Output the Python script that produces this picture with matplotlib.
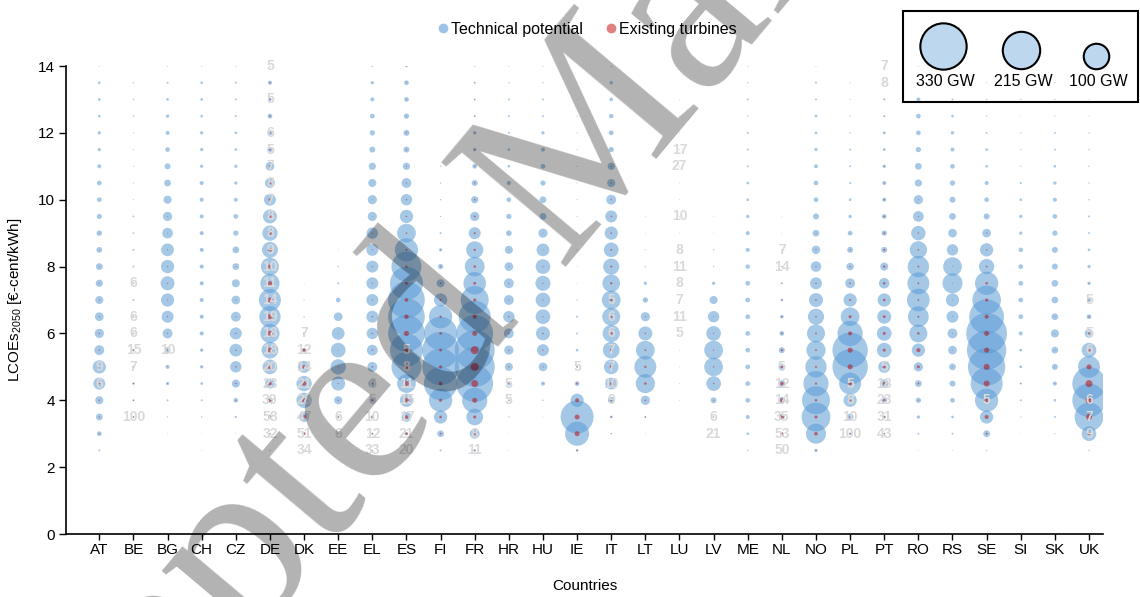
import numpy as np
import matplotlib
matplotlib.use('Agg')
import matplotlib.pyplot as plt
from matplotlib.lines import Line2D
from matplotlib.patches import Rectangle
from matplotlib.font_manager import FontProperties

plt.rcParams['font.family'] = ['Liberation Sans', 'DejaVu Sans']

# Countries on the x axis, LCOE bins (euro-cent/kWh) on the y axis
countries = ['AT', 'BE', 'BG', 'CH', 'CZ', 'DE', 'DK', 'EE', 'EL', 'ES',
             'FI', 'FR', 'HR', 'HU', 'IE', 'IT', 'LT', 'LU', 'LV', 'ME',
             'NL', 'NO', 'PL', 'PT', 'RO', 'RS', 'SE', 'SI', 'SK', 'UK']
levels = [2.5, 3.0, 3.5, 4.0, 4.5, 5.0, 5.5, 6.0, 6.5, 7.0, 7.5, 8.0,
          8.5, 9.0, 9.5, 10.0, 10.5, 11.0, 11.5, 12.0, 12.5, 13.0, 13.5, 14.0]

# Technical potential per bin [GW], bins 2.5 -> 14
pot_AT = [0.6, 3.4, 7, 10, 22, 27, 15, 13, 11.6, 10, 8, 7, 5, 4.5, 4, 3.4, 3.4, 2.5, 1.7, 1.7, 1.1, 1.1, 1.1, 0.3]
pot_BE = [0, 0, 0.5, 0.6, 1, 0.8, 1, 0.6, 0.6, 0.6, 0.5, 0.6, 0.6, 0.5, 0.5, 0.2, 0.2, 0.2, 0.2, 0.2, 0.3, 0.3, 0.3, 0.1]
pot_BG = [0, 0.1, 0.3, 0.6, 1.7, 2.5, 5, 15, 22, 27, 30, 27, 25, 17.5, 13, 10, 7, 5.5, 3.4, 2.5, 1.7, 1.1, 0.6, 0.3]
pot_CH = [0.1, 0.1, 0.3, 0.6, 1.1, 1.7, 1.7, 2.5, 2.5, 2.5, 2.5, 2.5, 2.5, 2.5, 2.5, 2.5, 2.5, 1.7, 1.7, 1.7, 1.1, 1.1, 1.1, 0.3]
pot_CZ = [0, 0.1, 0.6, 3.4, 10, 20, 25, 22, 15, 11.6, 10, 7, 7, 4.3, 3.4, 2.5, 1.7, 1.7, 1.1, 1.1, 0.6, 0.6, 0.6, 0.3]
pot_DE = [0.1, 0.5, 2, 5, 15, 33, 43, 57, 70, 74, 57, 50, 39, 36, 30, 22, 15, 11.6, 4.3, 4.3, 3.4, 1.7, 2.5, 0.3]
pot_DK = [0.2, 1, 15, 36, 36, 22, 3, 0.5, 0.3, 0.2, 0.1, 0, 0, 0, 0, 0, 0, 0, 0, 0, 0, 0, 0, 0]
pot_EE = [0, 0.3, 1, 10, 30, 36, 33, 25, 11.6, 3.4, 0.6, 0.3, 0.1, 0, 0, 0, 0, 0, 0, 0, 0, 0, 0, 0]
pot_EL = [0.3, 0.8, 2, 5, 10, 15, 18, 20, 22, 22, 22, 22, 22, 20, 13, 13, 10, 8, 5.5, 4.3, 3.4, 2.5, 1.7, 0.6]
pot_ES = [0.5, 1.7, 15, 27, 54, 138, 167, 207, 207, 207, 167, 138, 83, 54, 27, 20, 15, 8, 5.5, 5.5, 4.3, 3.4, 3.4, 1.1]
pot_FI = [0.6, 7, 27, 83, 171, 207, 207, 171, 83, 27, 10, 4.3, 1.7, 0.6, 0.3, 0.3, 0.3, 0.3, 0, 0, 0, 0, 0, 0]
pot_FR = [1.1, 15, 43, 98, 207, 246, 246, 207, 157, 120, 78, 60, 45, 22, 13, 8, 5.5, 3.4, 1.7, 1.7, 0.6, 0.6, 0.6, 0.3]
pot_HR = [0.1, 0.1, 0.3, 0.6, 2.5, 10, 13, 15, 20, 15, 15, 11.6, 10, 5, 4.3, 3.4, 2.5, 1.1, 1.1, 0.6, 0.6, 0.6, 0.3, 0.3]
pot_HU = [0, 0, 0.1, 0.3, 2.5, 11.6, 22, 30, 33, 33, 35, 33, 25, 13, 7, 7, 4.3, 3.4, 2.5, 1.7, 0.6, 0.6, 0.3, 0.3]
pot_IE = [1.1, 89, 167, 27, 3.4, 0.6, 1.1, 0.6, 0.6, 0.3, 0.1, 0.1, 0.2, 0.2, 0.2, 0.2, 0.2, 0.2, 0.2, 0.2, 0.2, 0.1, 0.1, 0.1]
pot_IT = [0, 0.3, 1.1, 7, 22, 33, 43, 46, 50, 54, 48, 40, 33, 27, 22, 15, 10, 8, 4.3, 3.4, 3, 2, 1.7, 0.6]
pot_LT = [0, 0.1, 0.6, 13, 57, 74, 54, 30, 13, 4.3, 1.7, 0.3, 0.2, 0.1, 0.1, 0, 0, 0, 0, 0, 0, 0, 0, 0]
pot_LU = [0, 0, 0, 0.1, 0.1, 0.1, 0.1, 0.1, 0.1, 0.1, 0.1, 0.1, 0.1, 0.1, 0.1, 0.1, 0.1, 0.1, 0.1, 0.1, 0.1, 0.1, 0, 0]
pot_LV = [0, 0.1, 0.3, 5.5, 33, 54, 54, 33, 20, 10, 1.7, 0.3, 0.3, 0.1, 0.1, 0, 0, 0, 0, 0, 0, 0, 0, 0]
pot_ME = [0.3, 1.1, 2.5, 3.4, 3.4, 3.4, 3.4, 3.4, 3.4, 3.4, 3.4, 3, 2.5, 2.5, 1.7, 1.1, 1.1, 0.6, 0.6, 0.6, 0.3, 0.6, 0.3, 0.3]
pot_NL = [0.1, 1.1, 5.5, 7, 7, 7, 5.5, 3.4, 2, 1.1, 0.6, 0.3, 0.2, 0.1, 0.1, 0, 0, 0, 0, 0, 0, 0, 0, 0]
pot_NO = [1.7, 62, 127, 120, 98, 70, 57, 50, 40, 30, 22, 17, 11, 7, 5.5, 3.4, 3.4, 2.5, 1.7, 1.1, 1.1, 0.6, 0.6, 0.3]
pot_PL = [0, 1.1, 7, 27, 74, 192, 192, 98, 54, 27, 15, 8.5, 5.5, 3.4, 1.7, 1.1, 0.6, 0.6, 0.6, 0.3, 0.3, 0.15, 0.15, 0.15]
pot_PT = [0, 0.6, 1.7, 5.5, 11.6, 22, 33, 33, 30, 27, 17, 10, 5.5, 4.3, 3.4, 2.5, 2.5, 1.7, 1.1, 1.1, 0.6, 0.6, 0.3, 0.3]
pot_RO = [0.1, 0.6, 1.7, 4.3, 7, 13, 27, 50, 66, 79, 74, 70, 46, 32, 17.5, 13, 8, 7, 4.3, 3.4, 3.4, 2.5, 0.6, 0.3]
pot_RS = [0.1, 0.6, 1.1, 3.4, 5.5, 7, 11.6, 15, 22, 27, 62, 54, 20, 11.6, 7, 5.5, 4.3, 3.4, 2.5, 1.7, 1.1, 0.6, 0.3, 0.15]
pot_SE = [0.3, 7, 27, 83, 157, 214, 238, 255, 185, 126, 83, 36, 27, 11.6, 5.5, 3.4, 2.5, 1.1, 1.1, 0.6, 0.3, 0.3, 0.15, 0.15]
pot_SI = [0, 0.07, 0.26, 0.6, 0.6, 1.1, 1.1, 2.5, 3.4, 3.4, 3.4, 3.4, 3, 1.7, 1.7, 1.1, 0.6, 0.26, 0.26, 0.26, 0.07, 0.26, 0.07, 0.07]
pot_SK = [0, 0.26, 0.6, 1.1, 2.5, 5.5, 7, 10, 7, 7, 7, 5.5, 5.5, 4.3, 3.4, 2.5, 1.7, 1.1, 0.6, 0.6, 0.26, 0.26, 0.26, 0.07]
pot_UK = [0.3, 33, 127, 171, 171, 74, 33, 11.6, 3.4, 2.5, 1.7, 1.7, 1.1, 0.6, 0.6, 0.3, 0.3, 0.3, 0.3, 0.3, 0.15, 0.15, 0.15, 0.15]

# Existing turbines per bin [GW], bins 2.5 -> 14
ex_AT = [0, 0.2, 0.3, 0.3, 0.3, 0.3, 0.3, 0.3, 0.2, 0.2, 0.2, 0.1, 0.1, 0.1, 0, 0, 0, 0, 0, 0, 0, 0, 0, 0]
ex_BE = [0, 0, 0.3, 0.2, 0.2, 0.3, 0.3, 0, 0, 0, 0, 0, 0, 0, 0, 0, 0, 0, 0, 0, 0, 0, 0, 0]
ex_BG = [0, 0, 0, 0, 0.1, 0.1, 0.2, 0.2, 0.2, 0.2, 0.2, 0.2, 0.2, 0.1, 0.1, 0, 0, 0, 0, 0, 0, 0, 0, 0]
ex_CH = [0, 0, 0, 0, 0, 0.1, 0.1, 0.1, 0.1, 0.1, 0.1, 0.1, 0.1, 0.1, 0, 0, 0, 0, 0, 0, 0, 0, 0, 0]
ex_CZ = [0, 0, 0.1, 0.2, 0.3, 0.3, 0.3, 0.3, 0.2, 0.2, 0.1, 0.1, 0.1, 0, 0, 0, 0, 0, 0, 0, 0, 0, 0, 0]
ex_DE = [0.1, 0.3, 1.5, 1.5, 2, 3, 4, 4.5, 4.5, 4, 3, 2.5, 2, 2, 1.5, 1.2, 1, 0.8, 0.5, 0.4, 0.4, 0.3, 0.3, 0.1]
ex_DK = [0.3, 1.5, 3, 2.5, 3, 2, 1.5, 0.3, 0, 0, 0, 0, 0, 0, 0, 0, 0, 0, 0, 0, 0, 0, 0, 0]
ex_EE = [0, 0.1, 0.3, 0.3, 0.2, 0.2, 0.1, 0.1, 0, 0, 0, 0, 0, 0, 0, 0, 0, 0, 0, 0, 0, 0, 0, 0]
ex_EL = [0.1, 0.3, 0.5, 0.5, 0.5, 0.4, 0.3, 0.3, 0.3, 0.2, 0.2, 0.2, 0.2, 0.2, 0.1, 0.1, 0, 0, 0, 0, 0, 0, 0, 0]
ex_ES = [0.2, 1, 2, 3.5, 3.5, 3, 3, 4, 3, 2, 1.2, 0.8, 0.5, 0.4, 0.3, 0.3, 0.2, 0.2, 0.2, 0.2, 0.1, 0.1, 0.1, 0.1]
ex_FI = [0, 0.5, 1, 1.5, 2, 1.5, 1.2, 1, 0.8, 0.5, 0.3, 0.2, 0.1, 0, 0, 0, 0, 0, 0, 0, 0, 0, 0, 0]
ex_FR = [0.2, 1, 1.4, 3.8, 7.5, 10, 10, 3.8, 2.5, 1.5, 1.2, 1, 0.8, 0.6, 0.5, 0.4, 0.3, 0.2, 0.2, 0.1, 0.1, 0.1, 0.1, 0.1]
ex_HR = [0, 0, 0, 0.1, 0.2, 0.3, 0.3, 0.3, 0.3, 0.2, 0.2, 0.2, 0.1, 0.1, 0, 0, 0, 0, 0, 0, 0, 0, 0, 0]
ex_HU = [0, 0, 0, 0, 0.1, 0.2, 0.3, 0.3, 0.2, 0.2, 0.2, 0.2, 0.1, 0.1, 0, 0, 0, 0, 0, 0, 0, 0, 0, 0]
ex_IE = [0.3, 3.8, 3.8, 2.5, 0.5, 0.2, 0, 0, 0, 0, 0, 0, 0, 0, 0, 0, 0, 0, 0, 0, 0, 0, 0, 0]
ex_IT = [0, 0.1, 0.3, 0.8, 1.2, 1.5, 1.2, 1.2, 1, 1, 0.8, 0.6, 0.5, 0.4, 0.3, 0.3, 0.2, 0.2, 0.1, 0.1, 0, 0, 0, 0]
ex_LT = [0, 0, 0.2, 0.4, 1, 0.8, 0.5, 0.3, 0.2, 0.1, 0, 0, 0, 0, 0, 0, 0, 0, 0, 0, 0, 0, 0, 0]
ex_LU = [0, 0, 0, 0, 0, 0, 0, 0, 0, 0, 0, 0, 0, 0, 0, 0, 0, 0, 0, 0, 0, 0, 0, 0]
ex_LV = [0, 0, 0.1, 0.2, 0.3, 0.3, 0.2, 0.2, 0.1, 0, 0, 0, 0, 0, 0, 0, 0, 0, 0, 0, 0, 0, 0, 0]
ex_ME = [0, 0, 0, 0, 0, 0, 0, 0, 0, 0, 0, 0, 0, 0, 0, 0, 0, 0, 0, 0, 0, 0, 0, 0]
ex_NL = [0.3, 1.5, 2.5, 2.5, 2, 1, 0.8, 0.4, 0.3, 0.2, 0.1, 0.1, 0, 0, 0, 0, 0, 0, 0, 0, 0, 0, 0, 0]
ex_NO = [0.2, 2, 1.5, 1, 0.8, 0.6, 0.5, 0.5, 0.4, 0.4, 0.3, 0.2, 0.2, 0.1, 0, 0, 0, 0, 0, 0, 0, 0, 0, 0]
ex_PL = [0, 0.3, 0.5, 1, 2, 4, 4, 2.5, 1.4, 0.6, 0.4, 0.3, 0.2, 0.1, 0, 0, 0, 0, 0, 0, 0, 0, 0, 0]
ex_PT = [0, 0.3, 0.5, 1, 1.5, 1.4, 1.4, 1.4, 1.2, 1, 1, 0.8, 0.6, 0.5, 0.4, 0.3, 0.2, 0.2, 0.1, 0.1, 0.1, 0.1, 0, 0]
ex_RO = [0, 0, 0, 0.2, 0.5, 1.4, 2.5, 1, 0.6, 0.5, 0.5, 0.5, 0.4, 0.3, 0.2, 0.1, 0, 0, 0, 0, 0, 0, 0, 0]
ex_RS = [0, 0, 0, 0, 0, 0.1, 0.1, 0.1, 0.1, 0.1, 0.1, 0.1, 0.1, 0, 0, 0, 0, 0, 0, 0, 0, 0, 0, 0]
ex_SE = [0, 0.6, 2.5, 2.5, 5.5, 5.5, 4, 3.8, 2.5, 1.5, 1, 0.5, 0.3, 0.2, 0.1, 0, 0, 0, 0, 0, 0, 0, 0, 0]
ex_SI = [0, 0, 0, 0, 0.1, 0.1, 0.1, 0, 0, 0, 0, 0, 0, 0, 0, 0, 0, 0, 0, 0, 0, 0, 0, 0]
ex_SK = [0, 0, 0, 0, 0.1, 0.1, 0.1, 0.1, 0.1, 0, 0, 0, 0, 0, 0, 0, 0, 0, 0, 0, 0, 0, 0, 0]
ex_UK = [0, 1.4, 5.5, 7.5, 7.5, 3.8, 1.4, 0.6, 0.3, 0.2, 0.1, 0, 0, 0, 0, 0, 0, 0, 0, 0, 0, 0, 0, 0]

potential = [pot_AT, pot_BE, pot_BG, pot_CH, pot_CZ, pot_DE, pot_DK, pot_EE, pot_EL, pot_ES,
             pot_FI, pot_FR, pot_HR, pot_HU, pot_IE, pot_IT, pot_LT, pot_LU, pot_LV, pot_ME,
             pot_NL, pot_NO, pot_PL, pot_PT, pot_RO, pot_RS, pot_SE, pot_SI, pot_SK, pot_UK]
existing = [ex_AT, ex_BE, ex_BG, ex_CH, ex_CZ, ex_DE, ex_DK, ex_EE, ex_EL, ex_ES,
            ex_FI, ex_FR, ex_HR, ex_HU, ex_IE, ex_IT, ex_LT, ex_LU, ex_LV, ex_ME,
            ex_NL, ex_NO, ex_PL, ex_PT, ex_RO, ex_RS, ex_SE, ex_SI, ex_SK, ex_UK]

# grey share labels next to the bubbles
label_country = ['AT', 'AT',
                 'BE', 'BE', 'BE', 'BE', 'BE', 'BE',
                 'BG',
                 'DE', 'DE', 'DE', 'DE', 'DE', 'DE', 'DE', 'DE', 'DE', 'DE', 'DE',
                 'DE', 'DE', 'DE', 'DE', 'DE', 'DE', 'DE', 'DE', 'DE', 'DE',
                 'DK', 'DK', 'DK', 'DK', 'DK', 'DK', 'DK', 'DK',
                 'EE', 'EE',
                 'EL', 'EL', 'EL', 'EL', 'EL',
                 'ES', 'ES', 'ES', 'ES', 'ES', 'ES', 'ES',
                 'FR', 'FR',
                 'HR', 'HR',
                 'IE',
                 'IT', 'IT', 'IT', 'IT', 'IT', 'IT', 'IT',
                 'LU', 'LU', 'LU', 'LU', 'LU', 'LU', 'LU', 'LU', 'LU',
                 'LV', 'LV',
                 'NL', 'NL', 'NL', 'NL', 'NL', 'NL', 'NL', 'NL',
                 'PL', 'PL', 'PL', 'PL',
                 'PT', 'PT', 'PT', 'PT', 'PT', 'PT', 'PT',
                 'SE',
                 'UK', 'UK', 'UK', 'UK', 'UK', 'UK']
label_level = [5, 4.5,
               7.5, 6.5, 6, 5.5, 5, 3.5,
               5.5,
               14, 13, 12, 11.5, 11, 10.5, 10, 9.5, 9, 8.5, 8,
               7.5, 7, 6.5, 6, 5.5, 5, 4.5, 4, 3.5, 3,
               6, 5.5, 5, 4.5, 4, 3.5, 3, 2.5,
               3.5, 3,
               4.5, 4, 3.5, 3, 2.5,
               5.5, 5, 4.5, 4, 3.5, 3, 2.5,
               3, 2.5,
               4.5, 4,
               5,
               7, 6.5, 6, 5.5, 5, 4.5, 4,
               11.5, 11, 9.5, 8.5, 8, 7.5, 7, 6.5, 6,
               3.5, 3,
               8.5, 8, 5, 4.5, 4, 3.5, 3, 2.5,
               4.5, 4, 3.5, 3,
               14, 13.5, 5, 4.5, 4, 3.5, 3,
               4,
               7, 6, 5.5, 4, 3.5, 3]
label_text = ['9', '6',
              '6', '6', '6', '15', '7', '100',
              '10',
              '5', '5', '6', '5', '7', '8', '7', '8', '8', '9', '10',
              '11', '14', '19', '18', '18', '20', '23', '39', '58', '32',
              '7', '12', '14', '21', '28', '47', '51', '34',
              '6', '6',
              '6', '5', '10', '12', '33',
              '5', '8', '11', '15', '17', '21', '20',
              '8', '11',
              '5', '5',
              '5',
              '5', '6', '6', '7', '7', '10', '9',
              '17', '27', '10', '8', '11', '8', '7', '11', '5',
              '6', '21',
              '7', '14', '5', '12', '14', '35', '53', '50',
              '5', '8', '10', '100',
              '7', '8', '5', '18', '23', '31', '43',
              '5',
              '5', '5', '6', '6', '7', '9']

legend_gw = [330, 215, 100]

# bubble area per GW (points^2 at 100 dpi)
SIZE_PER_GW = 3.37

fig = plt.figure(figsize=(11.4, 5.97), dpi=100)
ax = fig.add_axes([66 / 1140, 1 - 534 / 597, (1103 - 66) / 1140, (534 - 66) / 597])

px, py, ps = [], [], []
rx, ry, rs = [], [], []
for i in range(len(countries)):
    for lv, gw, ex in zip(levels, potential[i], existing[i]):
        if gw > 0:
            px.append(i); py.append(lv); ps.append(gw * SIZE_PER_GW)
        if ex > 0:
            rx.append(i); ry.append(lv); rs.append(ex * SIZE_PER_GW)

ax.scatter(px, py, s=ps, color='#5b9bd5', alpha=0.55, linewidths=0, zorder=2)
ax.scatter(rx, ry, s=rs, color='#c00000', alpha=0.5, linewidths=0, zorder=3)

for c, lv, t in zip(label_country, label_level, label_text):
    ax.text(countries.index(c), lv, t, ha='center', va='center', fontsize=10,
            fontweight='bold', color='#d9d9d9', zorder=4)

ax.set_xlim(-0.976, 29.41)
ax.set_ylim(0, 14)
ax.set_xticks(range(len(countries)))
ax.set_xticklabels(countries, fontsize=11)
ax.set_yticks([0, 2, 4, 6, 8, 10, 12, 14])
ax.tick_params(axis='y', labelsize=11, length=5, width=1, pad=3)
ax.tick_params(axis='x', length=4, width=1, pad=2.5)
for side in ['top', 'right']:
    ax.spines[side].set_visible(False)
for side in ['left', 'bottom']:
    ax.spines[side].set_linewidth(1.2)
ax.set_xlabel('Countries', fontsize=11, labelpad=16)
ax.set_ylabel(r'LCOEs$_\mathregular{2050}$ [€-cent/kWh]', fontsize=11, labelpad=10)

# colour legend at the top
handles = [Line2D([], [], marker='o', linestyle='', markersize=6, color='#9dc3e6',
                  label='Technical potential'),
           Line2D([], [], marker='o', linestyle='', markersize=6, color='#e08080',
                  label='Existing turbines')]
fig.legend(handles=handles, loc='center', bbox_to_anchor=(0.514, 0.951), ncol=2,
           frameon=False, fontsize=11.5, handletextpad=0.05, columnspacing=1.3,
           handlelength=0.9)

# bubble size legend (pixel coordinates overlay)
ov = fig.add_axes([0, 0, 1, 1])
ov.set_xlim(0, 1140)
ov.set_ylim(597, 0)
ov.axis('off')
ov.add_patch(Rectangle((903, 11), 235, 91, fill=False, edgecolor='black', linewidth=1.5))
for cx, gw in zip([943, 1021, 1096], legend_gw):
    d_px = 2.55 * np.sqrt(gw)
    ov.scatter([cx], [69 - d_px / 2], s=gw * SIZE_PER_GW, color='#bdd7ee',
               edgecolors='black', linewidths=1.5, zorder=3)
    ov.text(cx + 2, 81, f'{gw} GW', ha='center', va='center', fontsize=11.5)

# watermark: place the text so that its first "e" of "pted" and the "M"
# land where they are in the source picture
wm = 'Accepted Manuscript'
wm_angle = np.radians(50)
wm_e_center = np.array([363.0, 421.0])
wm_e_to_m = 353.0
renderer = fig.canvas.get_renderer()


def text_w(s, fp):
    return renderer.get_text_width_height_descent(s, fp, ismath=False)[0]


base = FontProperties(family=['Liberation Serif', 'DejaVu Serif'], size=100)
adv_e = (text_w('Accept', base) + text_w('Accepte', base)) / 2
adv_m = (text_w('Accepted ', base) + text_w('Accepted M', base)) / 2
wm_size = 100 * wm_e_to_m / (adv_m - adv_e)
fp = FontProperties(family=['Liberation Serif', 'DejaVu Serif'], size=wm_size)
adv_e = (text_w('Accept', fp) + text_w('Accepte', fp)) / 2
xh = renderer.get_text_width_height_descent('x', fp, ismath=False)[1]
u = np.array([np.cos(wm_angle), -np.sin(wm_angle)])
up = np.array([-np.sin(wm_angle), -np.cos(wm_angle)])
start = wm_e_center - adv_e * u - (xh / 2) * up
fig.text(start[0] / 1140, 1 - start[1] / 597, wm, rotation=50, rotation_mode='anchor',
         ha='left', va='baseline', fontproperties=fp,
         color='black', alpha=0.3, zorder=10)

fig.savefig('out.png', dpi=100)
